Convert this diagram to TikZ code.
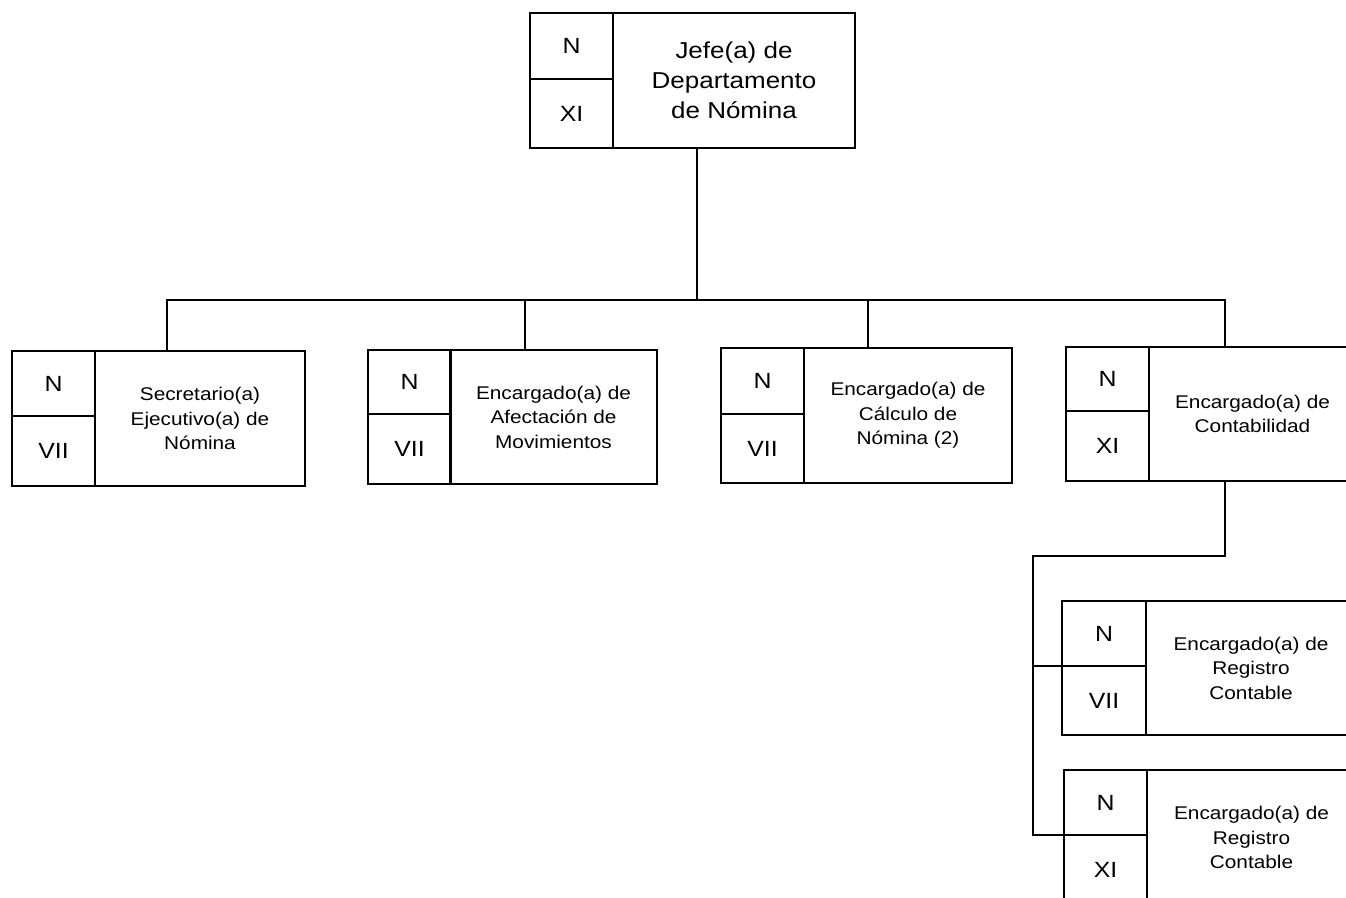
\documentclass[tikz,border=0pt]{standalone}
\usepackage{fontspec}
\setmainfont{Liberation Sans}
\newfontfamily\orgfont[FakeStretch=1.13]{Liberation Sans}
\begin{document}
\begin{tikzpicture}[x=1pt,y=-1pt,
  every node/.style={outer sep=0pt, inner sep=0pt, anchor=north west},
  codecell/.style={draw, line width=1.3pt, minimum width=#1, font={\orgfont\fontsize{22}{26}\selectfont}},
  codecell/.default=83,
  titlecell/.style={draw, line width=1.3pt, align=center, font={\orgfont\fontsize{18.4}{24.5}\selectfont}},
  toptitle/.style={draw, line width=1.3pt, align=center, font={\orgfont\fontsize{23}{30}\selectfont}},
  link/.style={draw, line width=1.3pt, line cap=rect}]
\useasboundingbox (0,0) rectangle (1346,897);
\fill[white] (0,0) rectangle (1346,897);
\clip (0,0) rectangle (1346,897);

% Top
\node[codecell, minimum height=66] (tn) at (530,13) {N};
\node[codecell, minimum height=69] (tg) at (530,79) {XI};
\node[toptitle, minimum width=242, minimum height=135] (t) at (613,13) {Jefe(a) de\\Departamento\\de Nómina};

% Level 2
\node[codecell, minimum height=65] (an) at (12,351) {N};
\node[codecell, minimum height=70] (ag) at (12,416) {VII};
\node[titlecell, minimum width=210, minimum height=135] (a) at (95,351) {Secretario(a)\\Ejecutivo(a) de\\Nómina};

\node[codecell, minimum height=64] (bn) at (368,350) {N};
\node[codecell, minimum height=70] (bg) at (368,414) {VII};
\node[titlecell, minimum width=207, minimum height=134] (b) at (450,350) {Encargado(a) de\\Afectación de\\Movimientos};

\node[codecell, minimum height=66] (cn) at (721,348) {N};
\node[codecell, minimum height=69] (cg) at (721,414) {VII};
\node[titlecell, minimum width=208, minimum height=135] (c) at (804,348) {Encargado(a) de\\Cálculo de\\Nómina (2)};

\node[codecell, minimum height=64] (dn) at (1066,347) {N};
\node[codecell, minimum height=70] (dg) at (1066,411) {XI};
\node[titlecell, minimum width=207, minimum height=134] (d) at (1149,347) {Encargado(a) de\\Contabilidad};

% Level 3
\node[codecell=84, minimum height=65] (en) at (1062,601) {N};
\node[codecell=84, minimum height=69] (eg) at (1062,666) {VII};
\node[titlecell, minimum width=210, minimum height=134] (e) at (1146,601) {Encargado(a) de\\Registro\\Contable};

\node[codecell, minimum height=65] (fn) at (1064,770) {N};
\node[codecell, minimum height=70] (fg) at (1064,835) {XI};
\node[titlecell, minimum width=209, minimum height=135] (f) at (1147,770) {Encargado(a) de\\Registro\\Contable};

% Connectors
\coordinate (j0) at (697,300);
\coordinate (ja) at (167,300);
\coordinate (jb) at (525,300);
\coordinate (jc) at (868,300);
\coordinate (jd) at (1225,300);
\coordinate (k1) at (1225,556);
\coordinate (k2) at (1033,556);
\coordinate (k3) at (1033,666);
\coordinate (k4) at (1033,835);

\draw[link] (j0 |- t.south) -- (j0);
\draw[link] (ja |- a.north) -- (ja) -- (jd) -- (jd |- d.north);
\draw[link] (jb) -- (jb |- b.north);
\draw[link] (jc) -- (jc |- c.north);
\draw[link] (k1 |- d.south) -- (k1) -- (k2) -- (k4) -- (fn.south west);
\draw[link] (k3) -- (en.south west);
\end{tikzpicture}
\end{document}
